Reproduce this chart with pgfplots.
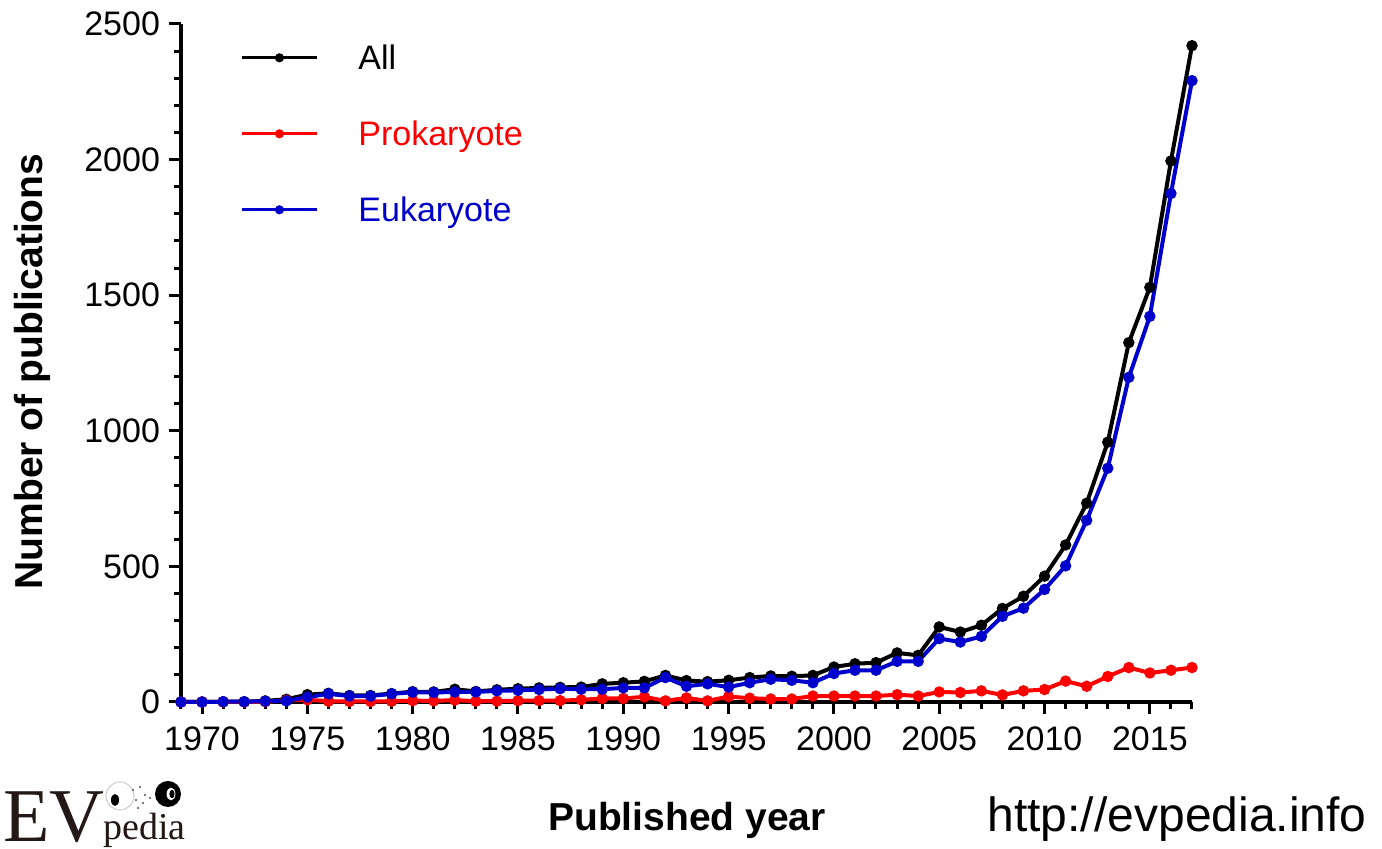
\documentclass[border=0pt]{standalone}
\usepackage{pgfplots}
\pgfplotsset{compat=1.18}
\usepackage{fontspec}
\setmainfont{Liberation Sans}
\newfontfamily\seriffont{Liberation Serif}
\definecolor{myblue}{RGB}{0,0,204}
\definecolor{myred}{RGB}{255,0,0}
\definecolor{logobrown}{RGB}{35,24,21}

\pgfplotstableread{
year all pro euk
1969 0 0 0
1970 0 0 0
1971 1 0 1
1972 1 0 1
1973 4 1 3
1974 10 6 4
1975 27 8 18
1976 32 3 30
1977 24 2 22
1978 24 2 22
1979 31 3 30
1980 38 5 36
1981 37 4 35
1982 47 7 37
1983 39 3 37
1984 45 3 41
1985 49 5 43
1986 52 5 46
1987 54 5 49
1988 55 8 47
1989 67 13 47
1990 71 13 52
1991 76 19 52
1992 98 4 90
1993 79 15 58
1994 75 4 67
1995 80 20 55
1996 90 14 71
1997 96 11 84
1998 95 11 80
1999 98 22 71
2000 129 22 105
2001 141 22 117
2002 145 22 117
2003 181 27 150
2004 172 22 150
2005 277 37 234
2006 258 35 221
2007 283 41 242
2008 345 26 316
2009 390 41 346
2010 464 46 415
2011 579 77 502
2012 733 58 670
2013 958 94 862
2014 1325 127 1197
2015 1529 107 1422
2016 1995 117 1875
2017 2420 127 2291
}\datatable

\begin{document}
\begin{tikzpicture}
\path[use as bounding box] (-90.5pt,-73.5pt) rectangle (600.5pt,351pt);
\begin{axis}[
 at={(0pt,0pt)}, anchor=south west,
 scale only axis, width=505.5pt, height=339pt,
 xmin=1969, xmax=2017, ymin=0, ymax=2500,
 axis lines=left,
 axis line style={line width=2pt, -},
 x axis line style={line width=2pt, -},
 y axis line style={line width=2pt, -},
 clip=false,
 xtick={1970,1975,...,2015},
 minor xtick={1969,...,2017},
 ytick={0,500,...,2500},
 minor ytick={0,100,...,2500},
 tick align=outside,
 major tick length=6pt, minor tick length=3.5pt,
 tick style={black, line width=1.5pt},
 major tick style={line width=1.5pt},
 minor tick style={line width=1.5pt},
 /pgf/number format/1000 sep={},
 /pgf/number format/assume math mode=true,
 tick label style={font=\fontsize{17}{20}\selectfont, black},
 xticklabel style={yshift=-3pt},
 yticklabel style={xshift=-1pt},
 legend style={draw=none, fill=none, inner sep=0pt,
   at={(0.0584,0.969)}, anchor=north west,
   font=\fontsize{17}{20}\selectfont,
   nodes={inner sep=0pt, text height=12.2pt, text depth=0pt, anchor=base west},
   row sep=25.8pt, column sep=20pt},
 legend cell align=left,
 legend image code/.code={\draw[mark repeat=2, mark phase=2, #1, line width=1.5pt, mark size=1.5pt] plot coordinates {(0pt,6pt) (18.75pt,6pt) (37.5pt,6pt)};},
]
\addplot[black, line width=2pt, mark=*, mark size=1.8pt] table[x=year, y=all] {\datatable};
\addlegendentry{\textcolor{black}{All}}
\addplot[myred, line width=2pt, mark=*, mark size=1.8pt] table[x=year, y=pro] {\datatable};
\addlegendentry{\textcolor{myred}{Prokaryote}}
\addplot[myblue, line width=2pt, mark=*, mark size=1.8pt] table[x=year, y=euk] {\datatable};
\addlegendentry{\textcolor{myblue}{Eukaryote}}
\end{axis}
\node[rotate=90, anchor=base, inner sep=0pt, font=\bfseries\fontsize{19.5}{22}\selectfont] at (-69pt,165.25pt) {Number of publications};
\node[anchor=base, inner sep=0pt, font=\bfseries\fontsize{19.5}{22}\selectfont] at (253pt,-64.5pt) {Published year};
\node[anchor=base, inner sep=0pt, font=\fontsize{24}{28}\selectfont] at (498pt,-65pt) {http://evpedia.info};
% logo
\node[anchor=base west, inner sep=0pt, font=\seriffont\fontsize{38}{38}\selectfont, text=logobrown] at (-89pt,-70pt) {EV};
\node[anchor=base west, inner sep=0pt, font=\seriffont\fontsize{19}{19}\selectfont, text=logobrown] at (-39pt,-69pt) {pedia};
\draw[gray!40, line width=0.5pt] (-30.5pt,-47pt) circle (7pt);
\fill[black] (-33pt,-49pt) ellipse (2pt and 3pt);
\foreach \p in {(-24pt,-44pt),(-20.5pt,-42.5pt),(-18pt,-46.5pt),(-22.5pt,-49pt),(-19pt,-50.5pt),(-15.5pt,-48pt),(-21.5pt,-53pt)}
  \fill[black!70] \p circle (0.6pt);
\fill[black] (-6.5pt,-46pt) circle (6.5pt);
\fill[white] (-5pt,-46pt) ellipse (2.2pt and 3.2pt);
\fill[black] (-4.5pt,-46pt) ellipse (1.3pt and 2.1pt);
\end{tikzpicture}
\end{document}
